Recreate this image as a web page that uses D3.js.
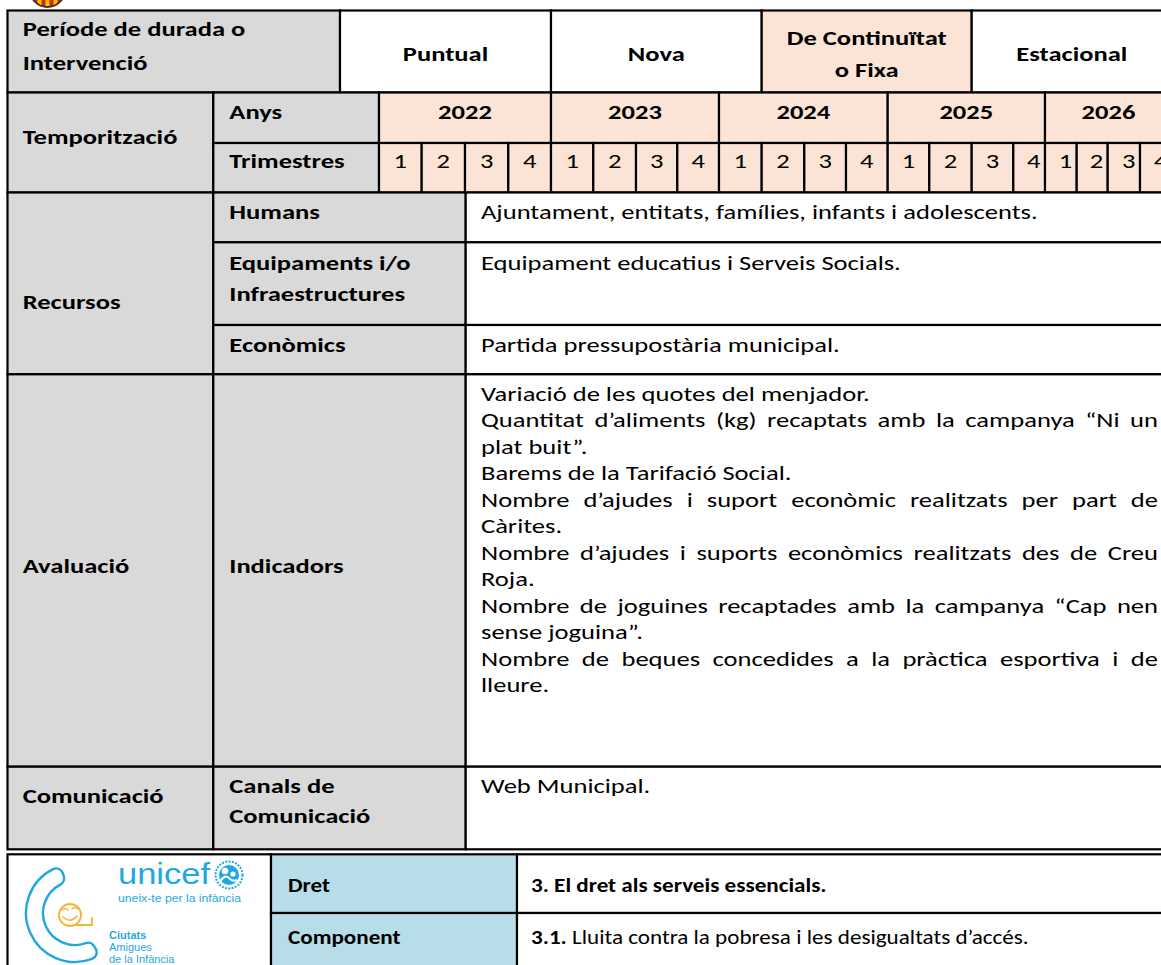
<!DOCTYPE html>
<html><head><meta charset="utf-8">
<script src="https://cdn.jsdelivr.net/npm/d3@7"></script>
<style>
body{margin:0;background:#fff;}
svg{display:block;}
</style></head><body><svg id="c" width="1161" height="965"></svg>
<script>
// ---------------- DATA ----------------
const periodLabel = ["Període de durada o", "Intervenció"];
const periodTypes = [["Puntual"], ["Nova"], ["De Continuïtat", "o Fixa"], ["Estacional"]];
const periodSelected = [false, false, true, false];
const timingLabel = "Temporització";
const timingRows = ["Anys", "Trimestres"];
const years = ["2022", "2023", "2024", "2025", "2026"];
const quarters = ["1", "2", "3", "4"];
const resourcesLabel = "Recursos";
const resourceLabels = [["Humans"], ["Equipaments i/o", "Infraestructures"], ["Econòmics"]];
const resourceTexts = ["Ajuntament, entitats, famílies, infants i adolescents.",
  "Equipament educatius i Serveis Socials.",
  "Partida pressupostària municipal."];
const evalLabel = "Avaluació";
const indicatorsLabel = "Indicadors";
const indicatorItems = [
  ["Variació de les quotes del menjador."],
  ["Quantitat d’aliments (kg) recaptats amb la campanya “Ni un", "plat buit”."],
  ["Barems de la Tarifació Social."],
  ["Nombre d’ajudes i suport econòmic realitzats per part de", "Càrites."],
  ["Nombre d’ajudes i suports econòmics realitzats des de Creu", "Roja."],
  ["Nombre de joguines recaptades amb la campanya “Cap nen", "sense joguina”."],
  ["Nombre de beques concedides a la pràctica esportiva i de", "lleure."]
];
const commLabel = "Comunicació";
const channelsLabel = ["Canals de", "Comunicació"];
const channelsText = "Web Municipal.";
const rightLabels = ["Dret", "Component"];
const rightValues = [
  [{t: "3. El dret als serveis essencials.", b: true}],
  [{t: "3.1.", b: true}, {t: " Lluita contra la pobresa i les desigualtats d’accés.", b: false}]
];
const logoTexts = ["unicef", "uneix-te per la infància", "Ciutats", "Amigues", "de la Infància"];

// ---------------- LAYOUT ----------------
const FONT = "Carlito, Calibri, Lato, 'Open Sans', sans-serif";
const FS = 20;
const C_GRAY = "#D9D9D9", C_PEACH = "#FBE4D5", C_BLUE = "#B6DDE8", C_LOGO = "#1FA8E0";
const SW = 2.2;
const X0 = 7.5, XR = 1172;
const colA = 213.3, colB = 340, colQ = 379, colC = 465.7;
const rows = [10.5, 92.5, 143, 192.5, 242.3, 325, 374.3, 766.7, 849.3];
const qEdges = [379, 421.7, 465, 508.3, 551, 593.3, 636, 677.3, 719, 761.7, 804.3, 846, 887.7,
  929.3, 971.7, 1013.3, 1045, 1076.7, 1107.7, 1140, 1172];
const periodEdges = [340, 551, 761.7, 971.7, 1172];
const t2 = {top: 854.3, split: 913, bottom: 980, logo: 271, dret: 517};
const padL1 = 22.7, padL2 = 229.3, padC = 481, justR = 1158;

const qx = d3.scaleLinear().domain(d3.range(qEdges.length)).range(qEdges);
const px = d3.scaleLinear().domain(d3.range(periodEdges.length)).range(periodEdges);
const lineY = d3.scaleLinear().domain([0, 1]).range([400.7, 427.2]);

const svg = d3.select("#c");
svg.append("rect").attr("width", 1161).attr("height", 965).attr("fill", "#fff");

// top-left emblem (partially visible)
const defs = svg.append("defs");
defs.append("clipPath").attr("id", "topclip").append("rect").attr("x", 0).attr("y", 0).attr("width", 120).attr("height", 12);
defs.append("clipPath").attr("id", "embclip").append("circle").attr("cx", 47.5).attr("cy", -10.5).attr("r", 17.5);
const emb = svg.append("g").attr("clip-path", "url(#topclip)");
const embIn = emb.append("g").attr("clip-path", "url(#embclip)");
embIn.append("rect").attr("x", 28).attr("y", -30).attr("width", 40).attr("height", 40).attr("fill", "#F6C900");
d3.range(4).forEach(i => embIn.append("rect").attr("x", 33.5 + i * 8).attr("y", -30).attr("width", 4).attr("height", 40).attr("fill", "#D8261C"));
emb.append("circle").attr("cx", 47.5).attr("cy", -10.5).attr("r", 17.5).attr("fill", "none").attr("stroke", "#5a2a12").attr("stroke-width", 2);

const cells = svg.append("g");
function cell(x0, y0, x1, y1, fill) {
  cells.append("rect").attr("x", x0).attr("y", y0).attr("width", x1 - x0).attr("height", y1 - y0)
    .attr("fill", fill || "#fff").attr("stroke", "#000").attr("stroke-width", SW);
}

// --- Row 1: period
cell(X0, rows[0], colB, rows[1], C_GRAY);
periodTypes.forEach((p, i) => cell(px(i), rows[0], px(i + 1), rows[1], periodSelected[i] ? C_PEACH : "#fff"));
// --- Timing
cell(X0, rows[1], colA, rows[3], C_GRAY);
cell(colA, rows[1], colQ, rows[2], C_GRAY);
cell(colA, rows[2], colQ, rows[3], C_GRAY);
years.forEach((y, i) => cell(qx(i * 4), rows[1], qx(i * 4 + 4), rows[2], C_PEACH));
d3.range(years.length * quarters.length).forEach(i => cell(qx(i), rows[2], qx(i + 1), rows[3], C_PEACH));
// --- Resources
cell(X0, rows[3], colA, rows[6], C_GRAY);
resourceLabels.forEach((r, i) => {
  cell(colA, rows[3 + i], colC, rows[4 + i], C_GRAY);
  cell(colC, rows[3 + i], XR, rows[4 + i], "#fff");
});
// --- Evaluation
cell(X0, rows[6], colA, rows[7], C_GRAY);
cell(colA, rows[6], colC, rows[7], C_GRAY);
cell(colC, rows[6], XR, rows[7], "#fff");
// --- Communication
cell(X0, rows[7], colA, rows[8], C_GRAY);
cell(colA, rows[7], colC, rows[8], C_GRAY);
cell(colC, rows[7], XR, rows[8], "#fff");
// --- Table 2
cell(X0, t2.top, t2.logo, t2.bottom, "#fff");
cell(t2.logo, t2.top, t2.dret, t2.split, C_BLUE);
cell(t2.logo, t2.split, t2.dret, t2.bottom, C_BLUE);
cell(t2.dret, t2.top, XR, t2.split, "#fff");
cell(t2.dret, t2.split, XR, t2.bottom, "#fff");

// ---------------- TEXT ----------------
const probe = svg.append("text").attr("font-family", FONT).attr("font-size", FS).text(resourceTexts[0]);
const natural = probe.node().getComputedTextLength();
probe.remove();
const K = 557 / natural;      // horizontal fit to the reference text widths (main table)
const K2 = K * 0.87;          // bottom table text is set narrower
const textG = svg.append("g").attr("transform", `scale(${K},1)`);
const textG2 = svg.append("g").attr("transform", `scale(${K2},1)`);

function txt(x, y, s, o = {}) {
  return textG.append("text").attr("x", x / K).attr("y", y)
    .attr("font-family", FONT).attr("font-size", o.size || FS)
    .attr("font-weight", o.bold ? "bold" : "normal")
    .attr("text-anchor", o.anchor || "start")
    .attr("fill", o.fill || "#000").text(s);
}

periodLabel.forEach((s, i) => txt(padL1, [36, 70][i], s, {bold: true}));
periodTypes.forEach((p, i) => {
  const cx = (px(i) + px(i + 1)) / 2;
  const ys = p.length === 1 ? [61] : [45, 76.7];
  p.forEach((s, j) => txt(cx, ys[j], s, {bold: true, anchor: "middle"}));
});
txt(padL1, 144, timingLabel, {bold: true});
timingRows.forEach((s, i) => txt(padL2, [119.3, 168.3][i], s, {bold: true}));
years.forEach((y, i) => txt((qx(i * 4) + qx(i * 4 + 4)) / 2, 119.3, y, {bold: true, anchor: "middle"}));
d3.range(years.length * quarters.length).forEach(i => {
  const a = qx(i), b = qx(i + 1), q = quarters[i % 4];
  if (b - a < 36) txt(b - 4.5, 168.3, q, {anchor: "end"});
  else txt((a + b) / 2, 168.3, q, {anchor: "middle"});
});
txt(padL1, 309, resourcesLabel, {bold: true});
const resLabelY = [[219], [270, 300.7], [351.7]];
resourceLabels.forEach((r, i) => r.forEach((s, j) => txt(padL2, resLabelY[i][j], s, {bold: true})));
resourceTexts.forEach((s, i) => txt(padC, resLabelY[i][0], s));
txt(padL1, 572.7, evalLabel, {bold: true});
txt(padL2, 572.7, indicatorsLabel, {bold: true});

// indicators with justification
let li = 0;
indicatorItems.forEach(item => {
  item.forEach((line, j) => {
    const y = lineY(li++);
    const justify = j < item.length - 1;
    if (!justify) { txt(padC, y, line); return; }
    const words = line.split(" ");
    const t = textG.append("text").attr("y", y).attr("font-family", FONT).attr("font-size", FS);
    const spans = words.map(w => t.append("tspan").text(w));
    const widths = spans.map(s => s.node().getComputedTextLength());
    const target = (justR - padC) / K;
    const gap = (target - d3.sum(widths)) / (words.length - 1);
    let x = padC / K;
    spans.forEach((s, k) => { s.attr("x", x); x += widths[k] + gap; });
  });
});

txt(padL1, 802.7, commLabel, {bold: true});
channelsLabel.forEach((s, i) => txt(padL2, [793.3, 823.3][i], s, {bold: true}));
txt(padC, 793.3, channelsText);

// table 2 text
const t2Y = [892, 944];
rightLabels.forEach((s, i) => textG2.append("text").attr("x", 288 / K2).attr("y", t2Y[i])
  .attr("font-family", FONT).attr("font-size", FS).attr("font-weight", "bold").text(s));
rightValues.forEach((parts, i) => {
  const t = textG2.append("text").attr("x", 531 / K2).attr("y", t2Y[i]).attr("font-family", FONT).attr("font-size", FS);
  parts.forEach(p => t.append("tspan").attr("font-weight", p.b ? "bold" : "normal").text(p.t));
});

// ---------------- LOGO ----------------
const lg = svg.append("g");
const arc = d3.arc().innerRadius(32).outerRadius(49).startAngle(150 * Math.PI / 180).endAngle(343 * Math.PI / 180).cornerRadius(7);
lg.append("path").attr("d", arc()).attr("transform", "translate(75,913)")
  .attr("fill", "#fff").attr("stroke", C_LOGO).attr("stroke-width", 2.4);
// smiley
const SY = "#F5B335";
lg.append("circle").attr("cx", 70).attr("cy", 915).attr("r", 11).attr("fill", "none").attr("stroke", SY).attr("stroke-width", 1.8);
lg.append("path").attr("d", "M62,910 q3,-3 6,0 M72,909 q3,-3 6,0 M63,917 q7,7 14,-1").attr("fill", "none").attr("stroke", SY).attr("stroke-width", 1.6).attr("stroke-linecap", "round");
lg.append("path").attr("d", "M76,925 L92,925 L92,918").attr("fill", "none").attr("stroke", SY).attr("stroke-width", 1.8).attr("stroke-linecap", "round");
// unicef text and emblem
const LF = "'Liberation Sans', Arial, sans-serif";
lg.append("text").attr("x", 118).attr("y", 884).attr("font-family", LF)
  .attr("font-size", 29).attr("fill", C_LOGO).attr("textLength", 92).attr("lengthAdjust", "spacingAndGlyphs").text(logoTexts[0]);
lg.append("circle").attr("cx", 229).attr("cy", 875).attr("r", 13.5).attr("fill", "none").attr("stroke", C_LOGO).attr("stroke-width", 2).attr("stroke-dasharray", "2 1.3");
lg.append("circle").attr("cx", 229).attr("cy", 875).attr("r", 10).attr("fill", C_LOGO);
lg.append("circle").attr("cx", 225).attr("cy", 871).attr("r", 3.3).attr("fill", "#fff");
lg.append("circle").attr("cx", 233).attr("cy", 874).attr("r", 2.6).attr("fill", "#fff");
lg.append("path").attr("d", "M220,882 q5,-9 10,-3 q3,3 7,1").attr("fill", "none").attr("stroke", "#fff").attr("stroke-width", 2);
lg.append("text").attr("x", 118).attr("y", 902).attr("font-family", LF)
  .attr("font-size", 10).attr("fill", C_LOGO).attr("textLength", 123).attr("lengthAdjust", "spacingAndGlyphs").text(logoTexts[1]);
lg.append("text").attr("x", 109).attr("y", 939).attr("font-family", LF)
  .attr("font-size", 11).attr("font-weight", "bold").attr("fill", C_LOGO).text(logoTexts[2]);
lg.append("text").attr("x", 109).attr("y", 951).attr("font-family", LF)
  .attr("font-size", 11).attr("fill", C_LOGO).text(logoTexts[3]);
lg.append("text").attr("x", 109).attr("y", 963).attr("font-family", LF)
  .attr("font-size", 11).attr("fill", C_LOGO).text(logoTexts[4]);
</script></body></html>
